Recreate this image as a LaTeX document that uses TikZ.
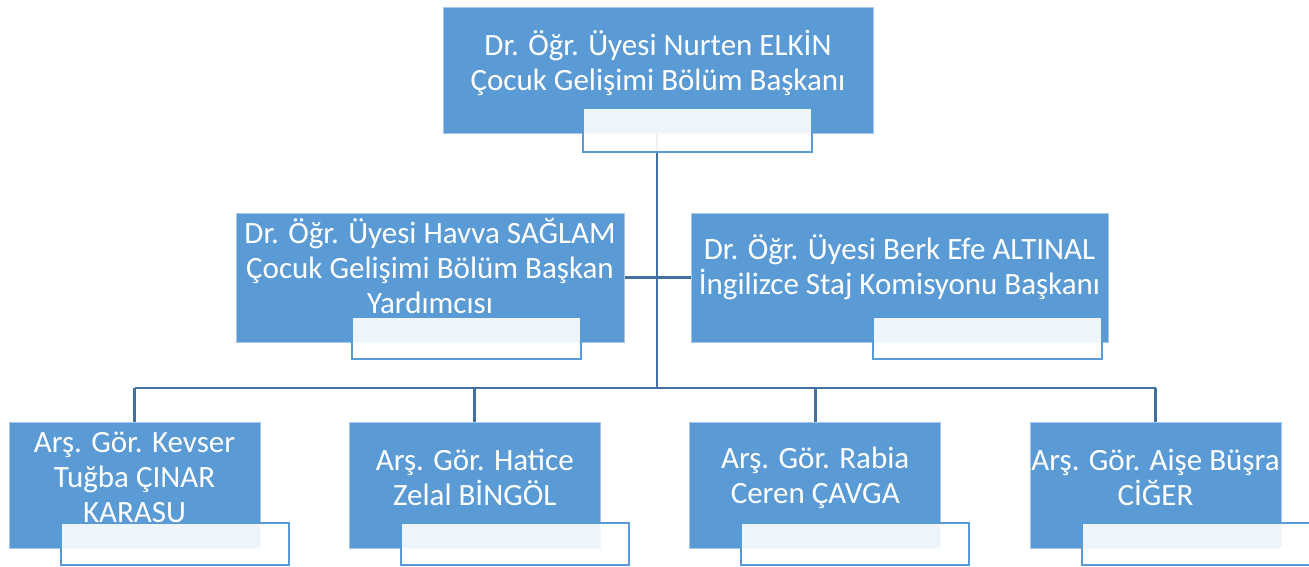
\documentclass[tikz,border=0pt]{standalone}
\usepackage{fontspec}
\setmainfont{Carlito}
\usetikzlibrary{backgrounds}
\definecolor{boxblue}{HTML}{5B9BD5}
\definecolor{lineblue}{HTML}{41719C}
\begin{document}
\begin{tikzpicture}[x=1pt,y=-1pt,
 bluebox/.style={rectangle, fill=boxblue, draw=boxblue!55!white, line width=0.8pt, inner sep=0pt},
 whitebox/.style={rectangle, fill=white, fill opacity=0.9, draw=boxblue, line width=2pt, inner sep=0pt, minimum width=229pt, minimum height=42pt},
 lbl/.style={text=white, font=\fontsize{31}{35}\selectfont, align=center, inner sep=0pt},
 conn/.style={draw=lineblue, line width=2.8pt}]
\useasboundingbox (0,0) rectangle (1309,567);
% top
\node[bluebox, minimum width=430pt, minimum height=126pt] (top) at (658,70) {};
\node[lbl] (toptext) at (658,62.5) {Dr. Öğr. Üyesi Nurten ELKİN\\Çocuk Gelişimi Bölüm Başkanı};
\node[whitebox, minimum height=44pt] (topw) at (697.5,130) {};
% middle
\node[bluebox, minimum width=388pt, minimum height=129pt] (ml) at (430,277.5) {};
\node[lbl] (mltext) at (430,266) {Dr. Öğr. Üyesi Havva SAĞLAM\\Çocuk Gelişimi Bölüm Başkan\\Yardımcısı};
\node[whitebox] (mlw) at (466.5,338) {};
\node[bluebox, minimum width=417pt, minimum height=129pt] (mr) at (899.5,277.5) {};
\node[lbl] (mrtext) at (899.5,267) {Dr. Öğr. Üyesi Berk Efe ALTINAL\\İngilizce Staj Komisyonu Başkanı};
\node[whitebox] (mrw) at (987,338) {};
% bottom
\node[bluebox, minimum width=251pt, minimum height=126pt] (b1) at (134.5,485) {};
\node[lbl] (b1text) at (134.5,477.5) {Arş. Gör. Kevser\\Tuğba ÇINAR\\KARASU};
\node[whitebox, minimum width=228pt] (b1w) at (174.5,544) {};
\node[bluebox, minimum width=251pt, minimum height=126pt] (b2) at (474.8,485) {};
\node[lbl] (b2text) at (474.8,477.5) {Arş. Gör. Hatice\\Zelal BİNGÖL};
\node[whitebox, minimum width=228pt] (b2w) at (514.8,544) {};
\node[bluebox, minimum width=251pt, minimum height=126pt] (b3) at (815.2,485) {};
\node[lbl] (b3text) at (815.2,477.5) {Arş. Gör. Rabia\\Ceren ÇAVGA};
\node[whitebox, minimum width=228pt] (b3w) at (855.2,544) {};
\node[bluebox, minimum width=251pt, minimum height=126pt] (b4) at (1155.5,485) {};
\node[lbl] (b4text) at (1155.5,477.5) {Arş. Gör. Aişe Büşra\\CİĞER};
\node[whitebox, minimum width=228pt] (b4w) at (1195.5,544) {};
\coordinate (bus) at (657,388);
\begin{scope}[on background layer]
\draw[conn] (top.south -| bus) -- (bus);
\draw[conn] (ml.east) -- (mr.west);
\draw[conn] (b1.north |- bus) -- (b4.north |- bus);
\foreach \b in {b1,b2,b3,b4} {\draw[conn] (\b.north) -- (\b.north |- bus);}
\end{scope}
\end{tikzpicture}
\end{document}
